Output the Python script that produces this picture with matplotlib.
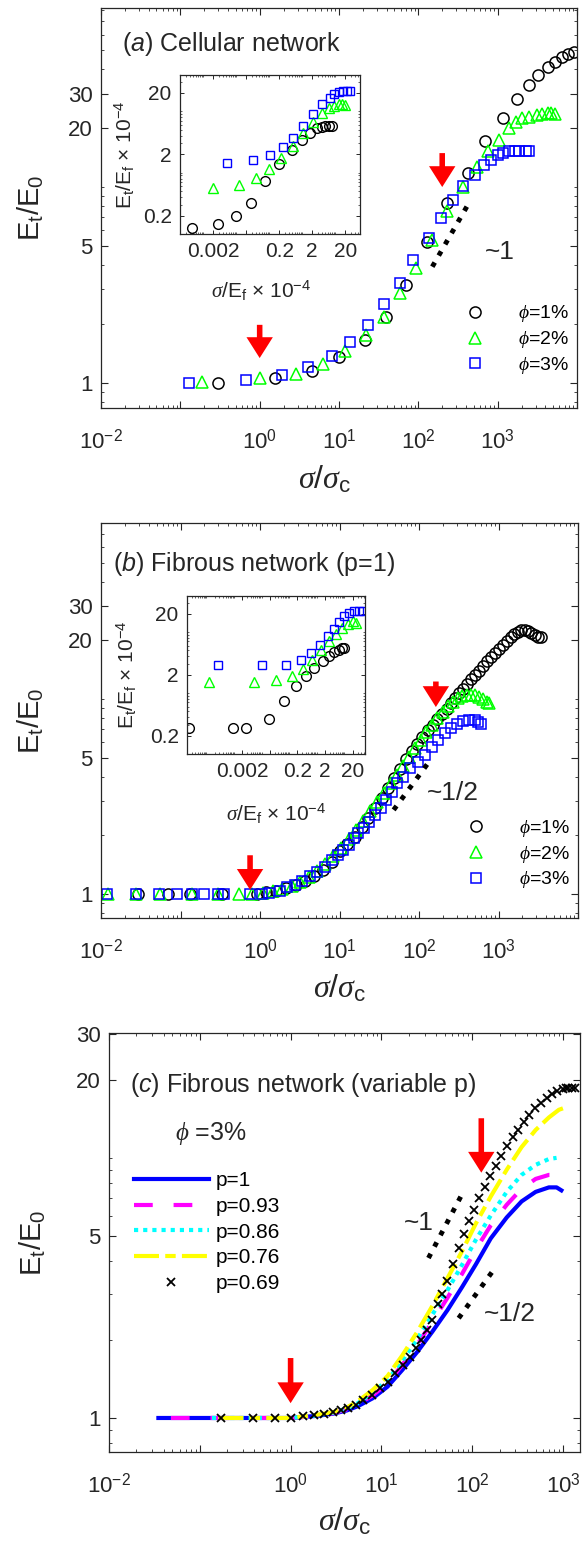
import numpy as np
import matplotlib.pyplot as plt
from matplotlib.ticker import LogLocator, NullFormatter

plt.rcParams['font.family'] = ['Liberation Sans', 'DejaVu Sans']
plt.rcParams['mathtext.fontset'] = 'custom'
plt.rcParams['mathtext.rm'] = 'Liberation Sans'
plt.rcParams['mathtext.it'] = 'Liberation Serif:italic'
plt.rcParams['mathtext.sf'] = 'Liberation Sans:italic'
plt.rcParams['mathtext.bf'] = 'Liberation Sans:bold'

# ---------------- panel (a): cellular network ----------------
a_x1 = [0.30, 1.55, 4.6, 10, 21, 39, 70, 130, 230, 420, 700, 1170, 1740, 2500, 3250, 4260, 5250, 6460, 7700, 9100]
a_y1 = [1.0, 1.056, 1.155, 1.35, 1.66, 2.18, 3.16, 5.26, 8.27, 11.8, 17.2, 22.4, 28.0, 33.0, 37.2, 41.2, 43.6, 46.3, 47.7, 49.0]
a_x2 = [0.19, 1.0, 2.9, 6.3, 12, 22, 36.5, 58, 94, 148, 230, 370, 550, 760, 1040, 1380, 1700, 2000, 2500, 3100, 3600, 4260, 4700, 5250]
a_y2 = [1.015, 1.056, 1.11, 1.25, 1.46, 1.76, 2.18, 2.87, 3.85, 5.36, 7.55, 10.0, 12.7, 15.3, 17.3, 19.9, 21.4, 22.4, 22.9, 23.3, 23.6, 23.8, 23.8, 23.6]
a_x3 = [0.13, 0.67, 1.91, 4.1, 8.1, 13.8, 23.4, 37, 58, 85, 135, 195, 270, 370, 515, 680, 825, 1000, 1170, 1400, 1650, 1880, 2250, 2500]
a_y3 = [1.0, 1.035, 1.10, 1.21, 1.37, 1.62, 1.98, 2.52, 3.23, 4.24, 5.47, 6.93, 8.6, 10.1, 11.5, 12.9, 13.7, 14.6, 15.0, 15.2, 15.3, 15.3, 15.3, 15.3]

# inset (a)
ai_x1 = [4.5e-4, 0.0029, 0.00995, 0.0277, 0.0753, 0.205, 0.484, 0.975, 1.74, 2.77, 3.93, 4.95, 6.25, 7.9]
ai_y1 = [0.124, 0.146, 0.199, 0.323, 0.736, 1.37, 2.38, 3.46, 4.43, 5.24, 5.56, 5.71, 5.85, 5.85]
ai_x2 = [0.002, 0.0125, 0.040, 0.102, 0.225, 0.519, 1.09, 2.19, 3.93, 6.25, 8.85, 12.6, 15.8, 20]
ai_y2 = [0.553, 0.627, 0.805, 1.13, 1.70, 2.70, 4.44, 6.7, 9.2, 11.1, 12.0, 12.9, 13.3, 12.5]
ai_x3 = [0.0054, 0.0334, 0.107, 0.259, 0.54, 1.09, 2.09, 3.93, 6.7, 9.2, 12.6, 17, 22.4, 28]
ai_y3 = [1.45, 1.60, 1.93, 2.57, 3.73, 5.77, 8.93, 12.9, 16.7, 18.9, 20.4, 21.2, 21.4, 21.4]

# ---------------- panel (b): fibrous network p=1 ----------------
b_x1 = [0.029, 0.070, 0.13, 0.33, 0.93, 1.2, 1.6, 2.1, 2.8, 3.7, 4.8, 6.2, 8.0, 10, 12.5, 15.5, 19, 23, 28, 34,
        41, 49, 58, 69, 81, 95, 110, 128, 148, 170, 195, 222, 252, 285, 320, 360, 405, 455, 510, 570,
        640, 720, 810, 910, 1020, 1140, 1270, 1420, 1580, 1750, 1930, 2130, 2350, 2600, 2870, 3150, 3450]
b_y1 = [1.0, 1.0, 1.0, 1.0, 1.0, 1.02, 1.04, 1.07, 1.11, 1.17, 1.24, 1.33, 1.46, 1.66, 1.80, 1.97, 2.2, 2.45, 2.75, 3.1,
        3.5, 3.95, 4.4, 4.9, 5.4, 5.9, 6.4, 6.9, 7.4, 7.9, 8.4, 8.9, 9.5, 10.1, 10.7, 11.3, 11.9, 12.6, 13.3, 14.0,
        14.8, 15.6, 16.4, 17.2, 18.0, 18.9, 19.8, 20.7, 21.5, 22.2, 22.6, 22.7, 22.4, 21.8, 21.2, 20.9, 20.8]
b_x2 = [0.0123, 0.0275, 0.055, 0.14, 0.30, 0.54, 0.8, 1.1, 1.45, 1.9, 2.5, 3.2, 4.1, 5.2, 6.6, 8.3, 10.4, 13, 16, 20,
        24.5, 30, 36.5, 44, 53, 63, 75, 89, 105, 124, 145, 170, 198, 230, 265, 305, 350, 400, 455, 510,
        570, 640, 710, 760]
b_y2 = [1.0, 1.0, 1.0, 1.0, 1.0, 1.0, 1.0, 1.01, 1.03, 1.06, 1.10, 1.15, 1.22, 1.31, 1.42, 1.56, 1.72, 1.91, 2.12, 2.37,
        2.65, 2.95, 3.3, 3.7, 4.1, 4.55, 5.05, 5.6, 6.2, 6.8, 7.4, 8.0, 8.6, 9.2, 9.7, 10.1, 10.4, 10.5, 10.5, 10.5,
        10.3, 10.0, 9.7, 9.5]
b_x3 = [0.012, 0.0275, 0.053, 0.091, 0.14, 0.20, 0.30, 0.355, 0.75, 1.05, 1.28, 1.78, 2.21, 2.74, 3.40, 4.22, 5.23, 6.50, 8.07, 9.5,
        11.2, 13.1, 15.1, 17.2, 20.2, 23.8, 28, 32.9, 38.7, 45.5, 53.5, 63, 78, 97, 120, 145, 175, 210, 250, 300,
        360, 430, 500, 560, 600]
b_y3 = [1.0, 1.0, 1.0, 1.0, 1.0, 1.0, 1.0, 1.0, 1.0, 1.0, 1.015, 1.04, 1.08, 1.11, 1.16, 1.23, 1.30, 1.38, 1.49, 1.58,
        1.68, 1.78, 1.93, 2.05, 2.17, 2.35, 2.54, 2.75, 3.03, 3.35, 3.70, 3.99, 4.41, 4.77, 5.17, 5.7, 6.2, 6.7, 7.1, 7.45,
        7.7, 7.8, 7.8, 7.65, 7.45]

# inset (b)
bi_x1 = [2.4e-5, 9.2e-4, 0.0028, 0.0187, 0.0656, 0.174, 0.40, 0.81, 1.62, 2.84, 4.32, 6.2, 8.1, 10]
bi_y1 = [0.267, 0.267, 0.267, 0.376, 0.73, 1.32, 1.88, 2.58, 3.31, 3.99, 4.64, 5.14, 5.48, 5.48]
bi_x2 = [1.3e-4, 0.0053, 0.0344, 0.124, 0.32, 0.70, 1.41, 2.68, 4.94, 8.1, 13.1, 20, 26.5]
bi_y2 = [1.50, 1.50, 1.61, 1.88, 2.48, 3.52, 5.14, 7.0, 9.4, 11.6, 13.7, 15.0, 14.1]
bi_x3 = [2.7e-4, 0.0107, 0.080, 0.264, 0.61, 1.29, 2.47, 4.3, 6.6, 10, 15.2, 23, 35, 46]
bi_y3 = [2.92, 2.92, 2.92, 3.43, 4.54, 6.2, 8.5, 11.2, 14.4, 18.1, 20.5, 21.9, 21.9, 21.9]

# ---------------- panel (c): variable p, phi = 3% ----------------
c_x1 = [0.035, 0.1, 0.3, 1.0, 2.0, 3.0, 4.2, 5.5, 8.0, 11.7, 17, 25, 36.5, 53.5, 78, 110, 160, 240, 350, 500, 700, 850, 960]
c_y1 = [1.0, 1.0, 1.0, 1.0, 1.02, 1.04, 1.07, 1.11, 1.19, 1.32, 1.53, 1.80, 2.15, 2.6, 3.2, 3.9, 4.9, 5.9, 6.8, 7.4, 7.7, 7.7, 7.5]
c_x2 = [0.048, 0.3, 1.0, 2.0, 3.0, 4.2, 5.5, 8.0, 11.7, 17, 25, 36.5, 53.5, 78, 110, 160, 240, 350, 500, 700, 850]
c_y2 = [1.0, 1.0, 1.0, 1.02, 1.045, 1.08, 1.13, 1.22, 1.36, 1.6, 1.92, 2.35, 2.9, 3.6, 4.45, 5.5, 6.6, 7.6, 8.3, 8.6, 8.6]
c_x3 = [0.136, 0.5, 1.0, 2.0, 3.0, 4.2, 5.5, 8.0, 11.7, 17, 25, 36.5, 53.5, 78, 110, 160, 240, 350, 500, 700, 850]
c_y3 = [1.0, 1.0, 1.0, 1.025, 1.05, 1.09, 1.14, 1.25, 1.40, 1.66, 2.02, 2.5, 3.1, 3.9, 4.85, 6.0, 7.4, 8.6, 9.4, 9.9, 10.0]
c_x4 = [0.16, 0.5, 1.0, 2.0, 3.0, 4.2, 5.5, 8.0, 11.7, 17, 25, 36.5, 53.5, 78, 110, 160, 240, 350, 500, 700, 900, 1050]
c_y4 = [1.0, 1.0, 1.0, 1.03, 1.055, 1.10, 1.16, 1.28, 1.45, 1.74, 2.15, 2.7, 3.45, 4.4, 5.6, 7.1, 9.0, 11.0, 12.8, 14.3, 15.3, 15.6]
c_x5 = [0.172, 0.39, 0.67, 1.0, 1.38, 1.83, 2.34, 2.96, 3.55, 4.34, 5.2, 6.3, 7.9, 9.7, 11.7, 14.2, 17.1, 20.7, 23.9, 27.6,
        31.6, 36.5, 42, 46.5, 53, 62, 72, 82, 93, 104, 120, 137, 158, 182, 210, 243, 280, 318, 370, 425,
        495, 575, 660, 760, 870, 1000, 1080, 1150, 1250, 1350]
c_y5 = [1.0, 1.0, 1.0, 1.0, 1.02, 1.03, 1.04, 1.05, 1.07, 1.09, 1.12, 1.17, 1.23, 1.30, 1.38, 1.49, 1.60, 1.72, 1.86, 2.0,
        2.18, 2.38, 2.75, 3.0, 3.35, 3.9, 4.5, 5.1, 5.7, 6.3, 7.0, 7.7, 8.5, 9.3, 10.2, 11.1, 12.0, 12.8, 13.7, 14.6,
        15.5, 16.3, 17.0, 17.6, 18.1, 18.4, 18.5, 18.6, 18.6, 18.6]
c_labels = ['p=1', 'p=0.93', 'p=0.86', 'p=0.76', 'p=0.69']
phi_labels = [r'$\phi$=1%', r'$\phi$=2%', r'$\phi$=3%']

GREEN = '#00ff00'
BLUE = '#0000ff'
AXC = '#262626'

fig = plt.figure(figsize=(5.82, 15.5), dpi=100)


def style_main(ax, xmax, ylim, ylabs):
    ax.set_xscale('log')
    ax.set_yscale('log')
    ax.set_xticks([1e-2, 1e-1, 1, 10, 100, 1000, 1e4],
                  labels=['$10^{-2}$', '', '$10^{0}$', '$10^{1}$', '$10^{2}$', '$10^{3}$', ''])
    ax.set_xlim(1e-2, xmax)
    ax.xaxis.set_minor_locator(LogLocator(base=10, subs=np.arange(2, 10), numticks=30))
    ax.xaxis.set_minor_formatter(NullFormatter())
    ax.set_yticks(ylabs, labels=[str(v) for v in ylabs])
    ax.yaxis.set_minor_locator(LogLocator(base=10, subs=np.arange(1, 10), numticks=30))
    ax.yaxis.set_minor_formatter(NullFormatter())
    ax.set_ylim(*ylim)
    ax.tick_params(which='both', direction='in', top=True, right=True, colors=AXC, labelcolor=AXC)
    ax.tick_params(which='major', length=5, width=0.8, labelsize=16)
    ax.tick_params(axis='x', which='major', pad=15)
    ax.tick_params(axis='y', which='major', pad=6)
    ax.tick_params(which='minor', length=2.5, width=0.6)
    for s in ax.spines.values():
        s.set_color(AXC)
        s.set_linewidth(0.9)
    ax.set_ylabel(r'E$_\mathregular{t}$/E$_\mathregular{0}$', fontsize=21, color=AXC)
    ax.set_xlabel(r'$\sigma/\sigma_\mathregular{c}$', fontsize=23, color=AXC)


def style_inset(ax, xlim):
    ax.set_xscale('log')
    ax.set_yscale('log')
    ax.set_xticks([0.002, 0.02, 0.2, 2, 20], labels=['0.002', '', '0.2', '2', '20'])
    ax.set_yticks([0.2, 2, 20], labels=['0.2', '2', '20'])
    ax.xaxis.set_minor_locator(LogLocator(base=10, subs=np.arange(1, 10), numticks=30))
    ax.yaxis.set_minor_locator(LogLocator(base=10, subs=np.arange(1, 10), numticks=30))
    ax.xaxis.set_minor_formatter(NullFormatter())
    ax.yaxis.set_minor_formatter(NullFormatter())
    ax.set_xlim(*xlim)
    ax.set_ylim(0.1, 39)
    ax.tick_params(which='both', direction='in', top=True, right=True, colors=AXC, labelcolor=AXC)
    ax.tick_params(which='major', length=3, width=0.7, labelsize=15, pad=6)
    ax.tick_params(which='minor', length=1.5, width=0.5)
    for s in ax.spines.values():
        s.set_color(AXC)
        s.set_linewidth(0.9)
    ax.set_ylabel(r'E$_\mathregular{t}$/E$_\mathregular{f}$ $\times$ 10$^\mathregular{-4}$', fontsize=15, color=AXC)
    ax.set_xlabel(r'$\sigma$/E$_\mathregular{f}$ $\times$ 10$^\mathregular{-4}$', fontsize=15, color=AXC)


def red_arrow(ax, x, ytop, ytip):
    ax.annotate('', xy=(x, ytip), xytext=(x, ytop),
                arrowprops=dict(arrowstyle='simple,head_width=0.95,head_length=0.75,tail_width=0.2',
                                color='red', lw=0, mutation_scale=20, shrinkA=0, shrinkB=0))


def markers3(ax, xs, ys, ms, mew):
    ax.plot(xs[0], ys[0], 'o', mfc='none', mec='k', ms=ms, mew=mew, label=phi_labels[0])
    ax.plot(xs[1], ys[1], '^', mfc='none', mec=GREEN, ms=ms, mew=mew, label=phi_labels[1])
    ax.plot(xs[2], ys[2], 's', mfc='none', mec=BLUE, ms=ms * 0.85, mew=mew, label=phi_labels[2])


# ---- (a)
ax_a = fig.add_axes([101 / 582, 1 - 408 / 1550, 476 / 582, 400 / 1550])
markers3(ax_a, [a_x1, a_x2, a_x3], [a_y1, a_y2, a_y3], 8, 1.1)
style_main(ax_a, 1e4, (0.745, 82), [1, 5, 20, 30])
ax_a.plot([150, 420], [3.92, 8.1], ':', color='k', lw=3.5)
ax_a.text(680, 4.66, '~1', fontsize=19, color=AXC, va='center')
red_arrow(ax_a, 1.0, 1.98, 1.34)
red_arrow(ax_a, 200, 14.9, 10.0)
ax_a.text(0.045, 0.91, r'($\mathsf{a}$) Cellular network', transform=ax_a.transAxes, fontsize=18, color=AXC, va='center')
ax_a.legend(loc='lower right', bbox_to_anchor=(1.0, 0.06), frameon=False, fontsize=14,
            handlelength=1.6, handletextpad=1.4, labelspacing=0.25, borderaxespad=0)

axi_a = fig.add_axes([180 / 582, 1 - 234 / 1550, 180 / 582, 159 / 1550])
markers3(axi_a, [ai_x1, ai_x2, ai_x3], [ai_y1, ai_y2, ai_y3], 7, 1.0)
style_inset(axi_a, (2e-4, 56))

# ---- (b)
ax_b = fig.add_axes([101 / 582, 1 - 918 / 1550, 477 / 582, 395 / 1550])
markers3(ax_b, [b_x1, b_x2, b_x3], [b_y1, b_y2, b_y3], 8, 1.1)
style_main(ax_b, 1e4, (0.753, 80), [1, 5, 20, 30])
ax_b.plot([48, 134], [2.7, 4.77], ':', color='k', lw=3.5)
ax_b.text(126, 3.3, '~1/2', fontsize=19, color=AXC, va='center')
red_arrow(ax_b, 0.75, 1.58, 1.05)
red_arrow(ax_b, 163, 12.3, 9.1)
ax_b.text(0.025, 0.895, r'($\mathsf{b}$) Fibrous network (p=1)', transform=ax_b.transAxes, fontsize=18, color=AXC, va='center')
ax_b.legend(loc='lower right', bbox_to_anchor=(1.0, 0.05), frameon=False, fontsize=14,
            handlelength=1.6, handletextpad=1.4, labelspacing=0.25, borderaxespad=0)

axi_b = fig.add_axes([187 / 582, 1 - 754 / 1550, 178 / 582, 158 / 1550])
markers3(axi_b, [bi_x1, bi_x2, bi_x3], [bi_y1, bi_y2, bi_y3], 7, 1.0)
style_inset(axi_b, (2e-5, 56))

# ---- (c)
ax_c = fig.add_axes([109 / 582, 1 - 1452 / 1550, 471 / 582, 419 / 1550])
ax_c.plot(c_x1, c_y1, '-', color=BLUE, lw=3, label=c_labels[0])
ax_c.plot(c_x2, c_y2, '--', color='#ff00ff', lw=3, dashes=(4.5, 5), label=c_labels[1])
ax_c.plot(c_x3, c_y3, ':', color='#00ffff', lw=3, dashes=(1, 1.2), label=c_labels[2])
ax_c.plot(c_x4, c_y4, '-.', color='#ffff00', lw=3, dashes=(6, 1.5, 2.5, 1.5), label=c_labels[3])
ax_c.plot(c_x5, c_y5, 'x', color='k', ms=6, mew=1.3, label=c_labels[4])
style_main(ax_c, 1540, (0.74, 30.2), [1, 5, 20, 30])
ax_c.plot([33, 82], [4.12, 7.54], ':', color='k', lw=3.5)
ax_c.plot([71, 182], [2.42, 3.81], ':', color='k', lw=3.5)
ax_c.text(38, 5.6, '~1', fontsize=19, color=AXC, va='center', ha='right')
ax_c.text(135, 2.5, '~1/2', fontsize=19, color=AXC, va='center')
red_arrow(ax_c, 1.0, 1.70, 1.14)
red_arrow(ax_c, 126, 14.2, 8.77)
ax_c.text(0.045, 0.875, r'($\mathsf{c}$) Fibrous network (variable p)', transform=ax_c.transAxes, fontsize=18, color=AXC, va='center')
ax_c.text(0.14, 0.76, r'$\phi$ =3%', transform=ax_c.transAxes, fontsize=18, color=AXC, va='center')
ax_c.legend(loc='upper left', bbox_to_anchor=(0.035, 0.69), frameon=False, fontsize=15,
            handlelength=3.6, handletextpad=0.35, labelspacing=0.32, borderaxespad=0)

ax_a.yaxis.set_label_coords(-0.115, 0.5)
ax_a.xaxis.set_label_coords(0.47, -0.14)
ax_b.yaxis.set_label_coords(-0.115, 0.5)
ax_b.xaxis.set_label_coords(0.5, -0.14)
ax_c.yaxis.set_label_coords(-0.13, 0.5)
ax_c.xaxis.set_label_coords(0.5, -0.13)
axi_a.yaxis.set_label_coords(-0.24, 0.5)
axi_b.yaxis.set_label_coords(-0.27, 0.5)
axi_a.xaxis.set_label_coords(0.45, -0.28)
axi_b.xaxis.set_label_coords(0.5, -0.30)

fig.savefig('out.png', dpi=100)
